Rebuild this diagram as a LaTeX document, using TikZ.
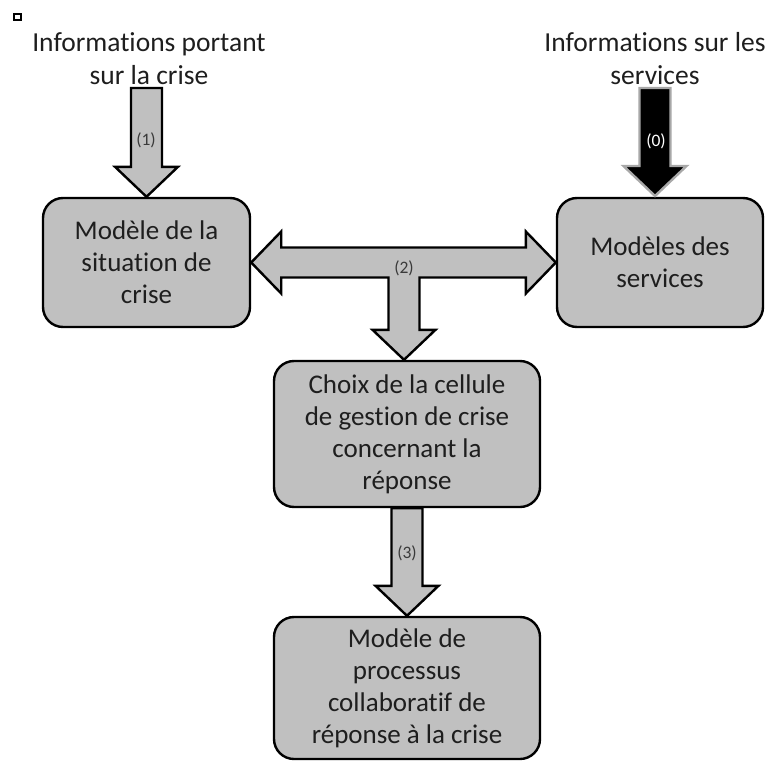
\documentclass[tikz,border=0pt]{standalone}
\usepackage{fontspec}
\setmainfont{Carlito}[Ligatures={NoCommon}]
\usetikzlibrary{calc}
\definecolor{boxgray}{HTML}{C0C0C0}
\definecolor{ink}{HTML}{1E1E1E}
\definecolor{lbl}{HTML}{3A3A3A}
\definecolor{rimgray}{HTML}{A8A8A8}
\tikzset{
  modelbox/.style={draw=black, line width=2.4pt, fill=boxgray, rounded corners=20pt,
    align=center, text=ink, inner sep=0pt,
    font=\fontsize{27}{32}\selectfont},
  titletext/.style={align=center, text=ink, inner sep=0pt,
    font=\fontsize{27.5}{33}\selectfont},
  grayarrow/.style={draw=black, line width=2.4pt, fill=boxgray, line join=miter},
  blackarrow/.style={draw=rimgray, line width=2.4pt, fill=black, line join=miter},
  steplabel/.style={font=\fontsize{17.5}{20}\selectfont, text=lbl, inner sep=0pt},
}
% vertical block arrow: #1 = top of shaft, #2 = tip, #3 = style
\newcommand\blockdown[3]{%
  \path[#3] let \p1=(#1), \p2=(#2) in
    (\x2,\y2) -- (\x2-31.5pt,\y2+30pt) -- (\x2-15.5pt,\y2+30pt) -- (\x2-15.5pt,\y1)
    -- (\x2+15.5pt,\y1) -- (\x2+15.5pt,\y2+30pt) -- (\x2+31.5pt,\y2+30pt) -- cycle;}
\begin{document}
\begin{tikzpicture}[x=1pt,y=-1pt]
\useasboundingbox (0,0) rectangle (767,762);

% bullet mark
\draw[line width=2pt] (14,14) rectangle (20.5,20.5);

% titles
\node[titletext] (t1) at (149,59) {Informations portant\\sur la crise};
\node[titletext] (t0) at (655,59) {Informations sur les\\services};

% boxes
\node[modelbox, minimum width=207pt, minimum height=129pt] (m1) at (146.5,262.5)
  {Modèle de la\\situation de\\crise};
\node[modelbox, minimum width=206pt, minimum height=129pt] (ms) at (660,262.5)
  {Modèles des\\services};
\node[modelbox, minimum width=266pt, minimum height=146pt] (ch) at (407,434)
  {Choix de la cellule\\de gestion de crise\\concernant la\\réponse};
\node[modelbox, minimum width=266pt, minimum height=142pt] (mp) at (407,688)
  {Modèle de\\processus\\collaboratif de\\réponse à la crise};

% arrow (1)
\coordinate (a1) at (m1.north |- 0,88);
\blockdown{a1}{m1.north}{grayarrow}
\node[steplabel] (l1) at (146,140) {(1)};

% arrow (0)
\coordinate (a0) at (655,88);
\coordinate (a0tip) at (655,196);
\blockdown{a0}{a0tip}{blackarrow}
\node[steplabel, text=white] (l0) at (656,141) {(0)};

% arrow (2): double-headed with a branch down
\coordinate (J) at (404,262.5);
\coordinate (B) at (J |- ch.north);
\path[grayarrow]
  (m1.east) -- ($(m1.east)+(30,-31)$) -- ($(m1.east)+(30,-15)$)
  -- ($(ms.west)+(-30,-15)$) -- ($(ms.west)+(-30,-31)$) -- (ms.west)
  -- ($(ms.west)+(-30,31)$) -- ($(ms.west)+(-30,15)$)
  -- ($(J)+(15.5,15)$) -- ($(B)+(15.5,-30)$) -- ($(B)+(31.5,-30)$) -- (B)
  -- ($(B)+(-31.5,-30)$) -- ($(B)+(-15.5,-30)$) -- ($(J)+(-15.5,15)$)
  -- ($(m1.east)+(30,15)$) -- ($(m1.east)+(30,31)$) -- cycle;
\node[steplabel] (l2) at ($(J)+(0,6)$) {(2)};

% arrow (3)
\blockdown{ch.south}{mp.north}{grayarrow}
\node[steplabel] (l3) at (407,553) {(3)};
\end{tikzpicture}
\end{document}
